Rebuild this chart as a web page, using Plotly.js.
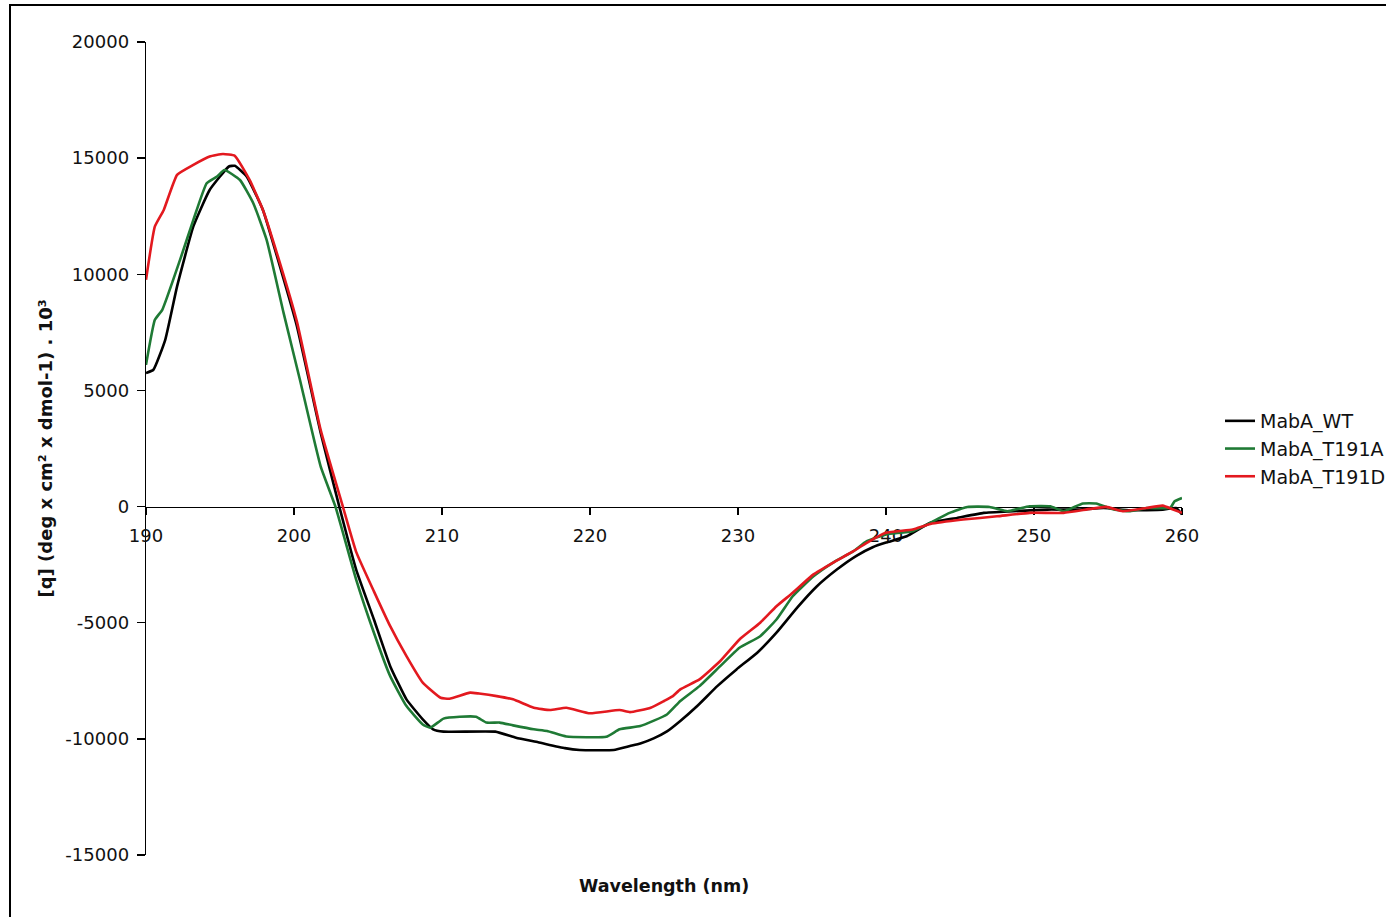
<!DOCTYPE html>
<html>
<head>
<meta charset="utf-8">
<script src="https://cdn.plot.ly/plotly-3.0.1.min.js"></script>
<style>html,body{margin:0;padding:0;background:#fff;}#chart{width:1386px;height:917px;}</style>
</head>
<body>
<div id="chart"></div>
<script>
// ---- Data ----
const seriesNames = ["MabA_WT", "MabA_T191A", "MabA_T191D"];

const wlWT = [190.0, 190.5, 191.3, 192.1, 193.2, 194.3, 195.6, 196.0, 196.8, 197.9, 199.05, 200.2, 201.8, 203.06, 204.2, 205.4, 206.5, 207.6, 208.7, 209.4, 210.1, 213.6, 215.0, 216.5, 218.3, 219.3, 221.6, 222.7, 223.4, 224.3, 225.2, 226.1, 227.3, 228.6, 229.9, 231.3, 232.6, 234.0, 235.3, 236.7, 238.0, 239.1, 240.0, 241.4, 243.0, 244.8, 246.6, 248.6, 250.9, 253.1, 254.7, 256.5, 258.7, 259.6, 260.0];
const valWT = [5750, 5890, 7180, 9480, 12060, 13630, 14640, 14670, 14210, 12770, 10340, 7760, 3180, 0, -2710, -4860, -6870, -8300, -9160, -9590, -9690, -9690, -9950, -10150, -10400, -10480, -10480, -10310, -10200, -9980, -9680, -9230, -8550, -7730, -7010, -6290, -5430, -4350, -3450, -2700, -2120, -1750, -1550, -1280, -700, -490, -270, -200, -130, -130, -60, -160, -130, -60, -340];

const wlT191A = [190.0, 190.6, 191.1, 192.3, 193.2, 194.1, 194.8, 195.3, 196.35, 197.25, 198.15, 199.3, 200.4, 201.8, 202.8, 204.2, 205.4, 206.5, 207.6, 208.7, 209.2, 210.1, 211.2, 212.3, 213.0, 213.9, 214.8, 216.2, 217.1, 218.4, 221.1, 222.0, 223.4, 225.2, 226.1, 227.4, 228.8, 230.1, 231.5, 232.6, 233.7, 235.1, 236.4, 237.8, 238.7, 240.0, 241.8, 243.2, 244.3, 245.5, 247.0, 248.2, 249.7, 251.1, 252.0, 253.3, 254.2, 255.4, 256.5, 257.6, 259.2, 259.5, 260.0];
const valT191A = [6100, 8040, 8470, 10620, 12340, 13920, 14210, 14490, 14060, 13060, 11480, 8330, 5460, 1730, 0, -3140, -5430, -7300, -8590, -9380, -9520, -9130, -9050, -9050, -9300, -9300, -9420, -9590, -9660, -9900, -9910, -9590, -9450, -8950, -8370, -7730, -6870, -6080, -5580, -4860, -3860, -3000, -2420, -1920, -1490, -1200, -1060, -630, -270, -15, -15, -200, 15, 15, -200, 130, 130, -130, -200, -60, -60, 230, 370];

const wlT191D = [190.0, 190.6, 191.2, 192.1, 193.2, 194.3, 195.2, 196.0, 197.0, 197.9, 199.05, 200.2, 201.8, 203.3, 204.2, 205.4, 206.5, 207.6, 208.7, 209.9, 210.5, 211.9, 212.5, 213.7, 214.8, 216.2, 217.3, 218.4, 220.0, 222.0, 222.7, 224.1, 225.0, 225.6, 226.1, 227.4, 228.8, 230.1, 231.5, 232.6, 233.7, 235.1, 236.4, 237.8, 238.7, 240.0, 241.8, 243.0, 245.2, 247.5, 249.7, 252.0, 253.8, 254.9, 256.0, 257.6, 258.7, 259.4, 260.0];
const valT191D = [9760, 12060, 12770, 14280, 14710, 15070, 15180, 15100, 14060, 12770, 10480, 7950, 3300, 0, -1950, -3650, -5150, -6440, -7580, -8230, -8270, -8010, -8050, -8160, -8300, -8660, -8760, -8660, -8900, -8760, -8850, -8660, -8370, -8160, -7870, -7440, -6650, -5720, -5000, -4290, -3710, -2920, -2420, -1920, -1560, -1130, -990, -750, -560, -420, -270, -270, -100, -15, -200, -60, 40, -130, -270];

const xTickVals = [190, 200, 210, 220, 230, 240, 250, 260];
const xTickText = ["190", "200", "210", "220", "230", "240", "250", "260"];
const yTickVals = [-15000, -10000, -5000, 0, 5000, 10000, 15000, 20000];
const yTickText = ["-15000", "-10000", "-5000", "0", "5000", "10000", "15000", "20000"];

const xTitle = "Wavelength (nm)";
const yTitle = "[q] (deg x cm² x dmol-1) . 10³";

// ---- Styling ----
const colors = ["#000000", "#1f7a35", "#e3191f"];
const FONT = "DejaVu Sans, Verdana, sans-serif";

const traces = [
  {x: wlWT, y: valWT, name: seriesNames[0]},
  {x: wlT191A, y: valT191A, name: seriesNames[1]},
  {x: wlT191D, y: valT191D, name: seriesNames[2]}
].map((t, i) => Object.assign(t, {
  type: "scatter", mode: "lines",
  line: {color: colors[i], width: 2.6, shape: "spline", smoothing: 0.4},
  hoverinfo: "skip"
}));

const yMin = -15000, yMax = 20000;

const layout = {
  width: 1386, height: 917,
  margin: {l: 146, r: 204, t: 42, b: 62, pad: 0},
  paper_bgcolor: "#ffffff", plot_bgcolor: "#ffffff",
  font: {family: FONT, size: 18, color: "#111111"},
  showlegend: true,
  legend: {
    xref: "container", yref: "container",
    x: 1220 / 1386, xanchor: "left", y: 1 - 449 / 917, yanchor: "middle",
    font: {family: FONT, size: 19, color: "#111111"},
    bgcolor: "rgba(0,0,0,0)", borderwidth: 0
  },
  xaxis: {
    range: [190, 260], anchor: "free", position: (0 - yMin) / (yMax - yMin),
    showgrid: false, zeroline: false, showline: true, linecolor: "#000", linewidth: 1.3,
    ticks: "outside", ticklen: 7, tickwidth: 1.3, tickcolor: "#000",
    tickvals: xTickVals, ticktext: xTickText, ticklabelstandoff: 6,
    tickfont: {family: FONT, size: 18, color: "#111111"},
    layer: "below traces", fixedrange: true
  },
  yaxis: {
    range: [yMin, yMax],
    showgrid: false, zeroline: false, showline: true, linecolor: "#000", linewidth: 1.3,
    ticks: "outside", ticklen: 8, tickwidth: 1.3, tickcolor: "#000",
    tickvals: yTickVals, ticktext: yTickText, ticklabelstandoff: 4,
    tickfont: {family: FONT, size: 18, color: "#111111"},
    title: {text: yTitle, font: {family: FONT, size: 18, color: "#111111", weight: "bold"}, standoff: 8},
    layer: "below traces", fixedrange: true
  },
  annotations: [{
    text: "<b>" + xTitle + "</b>", xref: "paper", yref: "paper",
    x: 0.5, y: (855 - 886) / 813, xanchor: "center", yanchor: "middle",
    showarrow: false, font: {family: FONT, size: 17.5, color: "#111111"}
  }],
  shapes: [{
    type: "rect", xref: "paper", yref: "paper",
    x0: (10 - 146) / 1036, x1: 1.25, y0: -0.12, y1: (855 - 5) / 813,
    line: {color: "#000", width: 2}, fillcolor: "rgba(0,0,0,0)", layer: "below"
  }]
};

Plotly.newPlot("chart", traces, layout, {staticPlot: true, displayModeBar: false});
</script>
</body>
</html>
